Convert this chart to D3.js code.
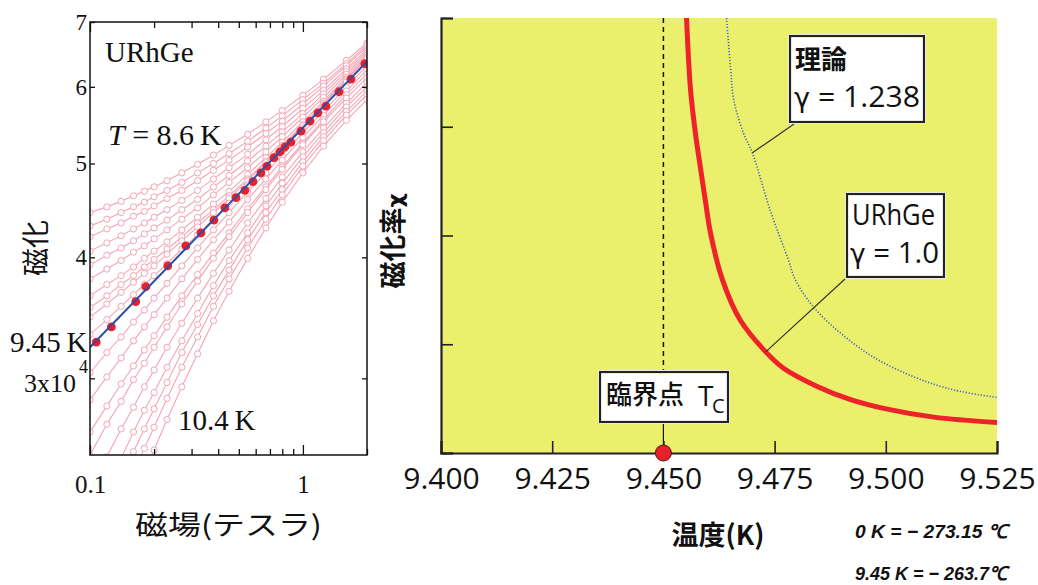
<!DOCTYPE html>
<html>
<head>
<meta charset="utf-8">
<script src="https://cdn.jsdelivr.net/npm/d3@7"></script>
<style>
  body { margin: 0; background: #fff; }
</style>
</head>
<body>
<div id="chart"></div>
<script>
// ===== 左: 磁化 vs 磁場 (両対数) =====
// 磁場 (テスラ)
var fieldT = [0.1, 0.12, 0.14, 0.16, 0.18, 0.2, 0.23, 0.27, 0.32, 0.38, 0.45, 0.55, 0.67, 0.8, 1.0, 1.25, 1.6, 2.0];

// 等温磁化曲線 (x10^4)、8.6 K (上) から 10.4 K (下) へ
var isotherms = [
  [4.45,4.51,4.57,4.63,4.68,4.73,4.80,4.89,4.99,5.10,5.22,5.36,5.52,5.67,5.88,6.11,6.39,6.66],
  [4.31,4.38,4.45,4.51,4.56,4.62,4.69,4.78,4.89,5.00,5.12,5.27,5.44,5.60,5.82,6.05,6.34,6.63],
  [4.20,4.28,4.34,4.41,4.46,4.52,4.60,4.69,4.80,4.92,5.04,5.20,5.37,5.53,5.76,6.01,6.31,6.60],
  [4.06,4.14,4.21,4.28,4.34,4.40,4.48,4.58,4.69,4.82,4.95,5.11,5.29,5.46,5.70,5.95,6.26,6.56],
  [3.93,4.02,4.09,4.16,4.23,4.29,4.37,4.48,4.59,4.73,4.86,5.03,5.21,5.39,5.63,5.90,6.22,6.53],
  [3.80,3.89,3.97,4.05,4.11,4.18,4.27,4.38,4.50,4.64,4.78,4.95,5.14,5.33,5.58,5.85,6.18,6.50],
  [3.65,3.75,3.83,3.91,3.99,4.06,4.15,4.27,4.40,4.54,4.68,4.87,5.07,5.26,5.52,5.80,6.14,6.47],
  [3.55,3.65,3.75,3.83,3.91,3.98,4.08,4.20,4.34,4.48,4.63,4.82,5.03,5.22,5.48,5.77,6.11,6.44],
  [3.47,3.58,3.68,3.77,3.85,3.92,4.03,4.16,4.30,4.45,4.60,4.80,5.01,5.20,5.47,5.75,6.10,6.43],
  [3.33,3.45,3.56,3.66,3.75,3.83,3.94,4.08,4.22,4.38,4.55,4.75,4.96,5.17,5.44,5.72,6.07,6.40],
  [3.04,3.19,3.31,3.43,3.53,3.63,3.76,3.92,4.09,4.27,4.45,4.67,4.89,5.10,5.38,5.66,6.00,6.31],
  [2.85,3.01,3.15,3.28,3.39,3.49,3.63,3.80,3.98,4.17,4.35,4.59,4.82,5.04,5.32,5.61,5.94,6.25],
  [2.64,2.81,2.96,3.09,3.21,3.32,3.47,3.65,3.84,4.04,4.24,4.49,4.73,4.96,5.25,5.55,5.89,6.19],
  [2.50,2.69,2.84,2.99,3.11,3.23,3.39,3.58,3.78,3.99,4.20,4.45,4.70,4.93,5.23,5.52,5.84,6.13],
  [2.30,2.49,2.66,2.80,2.94,3.06,3.23,3.42,3.63,3.85,4.07,4.34,4.60,4.84,5.14,5.44,5.77,6.06],
  [2.12,2.31,2.48,2.64,2.78,2.90,3.08,3.28,3.50,3.74,3.97,4.24,4.52,4.77,5.08,5.38,5.72,6.00],
  [2.00,2.19,2.37,2.52,2.66,2.79,2.97,3.19,3.41,3.65,3.88,4.17,4.45,4.70,5.02,5.33,5.66,5.94],
  [1.86,2.06,2.23,2.40,2.54,2.67,2.86,3.08,3.31,3.56,3.80,4.09,4.38,4.64,4.97,5.28,5.61,5.89],
  [1.71,1.91,2.09,2.25,2.40,2.53,2.72,2.94,3.18,3.44,3.69,3.99,4.29,4.56,4.89,5.21,5.54,5.82]
];

// 9.45 K (臨界) の測定点とフィット直線
var critField = [0.107,0.126,0.164,0.183,0.232,0.282,0.332,0.382,0.430,0.485,0.534,0.583,0.635,0.678,0.731,0.780,0.823,0.878,0.979,1.079,1.176,1.282,1.476,1.681,1.955];
var critMag   = [3.27,3.39,3.60,3.73,3.92,4.11,4.24,4.37,4.50,4.61,4.69,4.79,4.89,4.97,5.07,5.14,5.20,5.26,5.40,5.53,5.64,5.73,5.93,6.11,6.34];
var critFitField = [0.1, 2.0];
var critFitMag   = [3.23, 6.37];

var magTicks = [4, 5, 6, 7];
var magTicksAll = [3, 4, 5, 6, 7];
var fieldMajor = [0.1, 1];
var fieldMinor = [0.2, 0.3, 0.4, 0.5, 0.6, 0.7, 0.8, 0.9, 2];

// ===== 右: 磁化率 vs 温度 =====
var tempTicks = [9.400, 9.425, 9.450, 9.475, 9.500, 9.525];
var chiTicks = [0, 1, 2, 3, 4];
var Tc = 9.45;
var tempURhGe = [9.4552,9.4561,9.4572,9.4583,9.4594,9.4606,9.4633,9.4673,9.4730,9.4770,9.4847,9.4921,9.4995,9.5108,9.5252];
var chiURhGe  = [4.0,3.34,2.94,2.63,2.33,2.02,1.59,1.22,0.93,0.78,0.61,0.49,0.41,0.33,0.28];
var tempTheory = [9.4642,9.4651,9.4658,9.4680,9.4700,9.4741,9.4779,9.4797,9.4838,9.4899,9.4973,9.5063,9.5153,9.5252];
var chiTheory  = [4.0,3.54,3.25,2.94,2.76,2.22,1.80,1.59,1.34,1.10,0.88,0.70,0.58,0.51];

var serif = "'Liberation Serif','Times New Roman',serif";
var cjk = "'Noto Sans CJK JP','Noto Sans',sans-serif";
var sans = "'Open Sans','Noto Sans',sans-serif";
var greek = "'DejaVu Sans',sans-serif";
var pink = "#f4a4b6";

var svg = d3.select("#chart").append("svg")
  .attr("width", 1038)
  .attr("height", 585);

/* ---------- 左パネル ---------- */
var xL = d3.scaleLog().domain([0.1, 2]).range([90, 367]);
var yL = d3.scaleLog().domain([2.5, 7]).range([455, 22]);

svg.append("clipPath").attr("id", "clipL")
  .append("rect").attr("x", 90).attr("y", 22).attr("width", 277).attr("height", 433);

var plotL = svg.append("g").attr("clip-path", "url(#clipL)");
var lineL = d3.line().x(d => xL(d[0])).y(d => yL(d[1]));

isotherms.forEach(function (m) {
  var pts = fieldT.map((h, i) => [h, m[i]]);
  plotL.append("path")
    .attr("d", lineL(pts))
    .attr("fill", "none")
    .attr("stroke", pink)
    .attr("stroke-width", 1.1);
  plotL.append("g").selectAll("circle")
    .data(pts).enter()
    .append("circle")
    .attr("cx", d => xL(d[0]))
    .attr("cy", d => yL(d[1]))
    .attr("r", 3.1)
    .attr("fill", "#fff")
    .attr("stroke", pink)
    .attr("stroke-width", 1);
});

plotL.append("g").selectAll("circle")
  .data(critField.map((h, i) => [h, critMag[i]])).enter()
  .append("circle")
  .attr("cx", d => xL(d[0]))
  .attr("cy", d => yL(d[1]))
  .attr("r", 4.4)
  .attr("fill", "#e8202a");

// フィット直線は点の上に
plotL.append("path")
  .attr("d", lineL(critFitField.map((h, i) => [h, critFitMag[i]])))
  .attr("stroke", "#2d4ea6")
  .attr("stroke-width", 2)
  .attr("fill", "none");

function styleAxis(g, font, size) {
  g.select(".domain").remove();
  g.selectAll(".tick line").attr("stroke", "#111").attr("stroke-width", 1.3);
  g.selectAll("text").attr("font-family", font).attr("font-size", size).attr("fill", "#111");
}

svg.append("g").attr("transform", "translate(0,455)")
  .call(d3.axisBottom(xL).tickValues(fieldMajor).tickSize(-10).tickPadding(20).tickFormat(d3.format("~g")))
  .call(g => styleAxis(g, serif, 25));
svg.append("g").attr("transform", "translate(0,455)")
  .call(d3.axisBottom(xL).tickValues(fieldMinor).tickSize(-6).tickFormat(""))
  .call(g => styleAxis(g, serif, 25));
svg.append("g").attr("transform", "translate(0,22)")
  .call(d3.axisTop(xL).tickValues(fieldMajor).tickSize(-10).tickFormat(""))
  .call(g => styleAxis(g, serif, 25));
svg.append("g").attr("transform", "translate(0,22)")
  .call(d3.axisTop(xL).tickValues(fieldMinor).tickSize(-6).tickFormat(""))
  .call(g => styleAxis(g, serif, 25));
svg.append("g").attr("transform", "translate(90,0)")
  .call(d3.axisLeft(yL).tickValues(magTicksAll).tickSize(-5).tickPadding(3)
    .tickFormat(d => magTicks.indexOf(d) >= 0 ? d : ""))
  .call(g => styleAxis(g, serif, 23));
svg.append("g").attr("transform", "translate(367,0)")
  .call(d3.axisRight(yL).tickValues(magTicksAll).tickSize(-5).tickFormat(""))
  .call(g => styleAxis(g, serif, 23));

svg.append("rect")
  .attr("x", 90).attr("y", 22).attr("width", 277).attr("height", 433)
  .attr("fill", "none").attr("stroke", "#111").attr("stroke-width", 1.5);

// 3x10^4 ラベル
svg.append("text")
  .attr("x", 24).attr("y", yL(3) + 14)
  .attr("font-family", serif).attr("font-size", 26).attr("fill", "#111")
  .text("3x10");
svg.append("text")
  .attr("x", 79).attr("y", yL(3) - 5)
  .attr("font-family", serif).attr("font-size", 18).attr("fill", "#111")
  .text("4");

svg.append("text").attr("x", 105).attr("y", 62)
  .attr("font-family", serif).attr("font-size", 29).attr("fill", "#111")
  .text("URhGe");

var tText = svg.append("text").attr("x", 108).attr("y", 145)
  .attr("font-family", serif).attr("font-size", 30).attr("fill", "#111");
tText.append("tspan").attr("font-style", "italic").text("T");
tText.append("tspan").text(" = 8.6\u2009K");

svg.append("text").attr("x", 10).attr("y", 352)
  .attr("font-family", serif).attr("font-size", 29).attr("fill", "#111")
  .text("9.45\u2009K");
svg.append("text").attr("x", 178).attr("y", 430)
  .attr("font-family", serif).attr("font-size", 29).attr("fill", "#111")
  .text("10.4\u2009K");

svg.append("text").attr("x", 135).attr("y", 535)
  .attr("font-family", cjk).attr("font-size", 27).attr("fill", "#111")
  .attr("textLength", 187).attr("lengthAdjust", "spacingAndGlyphs")
  .text("磁場(テスラ)");

svg.append("text")
  .attr("transform", "translate(46,248) rotate(-90)")
  .attr("text-anchor", "middle")
  .attr("font-family", cjk).attr("font-size", 28).attr("fill", "#111")
  .text("磁化");

/* ---------- 右パネル ---------- */
var xR = d3.scaleLinear().domain([9.4, 9.525]).range([441, 997]);
var yR = d3.scaleLinear().domain([0, 4]).range([453, 18]);

svg.append("rect")
  .attr("x", xR(9.4)).attr("y", yR(4))
  .attr("width", xR(9.525) - xR(9.4)).attr("height", yR(0) - yR(4))
  .attr("fill", "#ebf06c");

svg.append("clipPath").attr("id", "clipR")
  .append("rect").attr("x", 441).attr("y", 18).attr("width", 556).attr("height", 435);
var plotR = svg.append("g").attr("clip-path", "url(#clipR)");

var lineR = d3.line().x(d => xR(d[0])).y(d => yR(d[1])).curve(d3.curveCatmullRom.alpha(0.5));

plotR.append("path")
  .attr("d", lineR(tempTheory.map((t, i) => [t, chiTheory[i]])))
  .attr("fill", "none")
  .attr("stroke", "#4a5bc4")
  .attr("stroke-width", 1.6)
  .attr("stroke-dasharray", "1.2,1.8");

plotR.append("path")
  .attr("d", lineR(tempURhGe.map((t, i) => [t, chiURhGe[i]])))
  .attr("fill", "none")
  .attr("stroke", "#ee2229")
  .attr("stroke-width", 5);

// 臨界点の破線
svg.append("line")
  .attr("x1", xR(Tc)).attr("x2", xR(Tc))
  .attr("y1", yR(4)).attr("y2", 370)
  .attr("stroke", "#111").attr("stroke-width", 1.5)
  .attr("stroke-dasharray", "5,4");
svg.append("line")
  .attr("x1", xR(Tc)).attr("x2", xR(Tc))
  .attr("y1", 424).attr("y2", yR(0))
  .attr("stroke", "#111").attr("stroke-width", 1.2);

svg.append("g").attr("transform", "translate(0,453)")
  .call(d3.axisBottom(xR).tickValues(tempTicks).tickSize(-12).tickPadding(15).tickFormat(d3.format(".3f")))
  .call(g => {
    g.select(".domain").attr("stroke", "#222").attr("stroke-width", 2.2);
    g.selectAll(".tick line").attr("stroke", "#222").attr("stroke-width", 1.6);
    g.selectAll("text").attr("font-family", sans).attr("font-size", 30).attr("fill", "#111");
  });
svg.append("g").attr("transform", "translate(441,0)")
  .call(d3.axisLeft(yR).tickValues(chiTicks).tickSize(-12).tickFormat(""))
  .call(g => {
    g.select(".domain").attr("stroke", "#222").attr("stroke-width", 2.2);
    g.selectAll(".tick line").attr("stroke", "#222").attr("stroke-width", 1.6);
  });

svg.append("circle")
  .attr("cx", xR(Tc)).attr("cy", yR(0)).attr("r", 8)
  .attr("fill", "#e8202a").attr("stroke", "#4a1a1a").attr("stroke-width", 1);

// 注釈の引き出し線
svg.append("line")
  .attr("x1", 794).attr("y1", 124)
  .attr("x2", xR(9.4700)).attr("y2", yR(2.76))
  .attr("stroke", "#333").attr("stroke-width", 1.2);
svg.append("line")
  .attr("x1", 845).attr("y1", 279)
  .attr("x2", xR(9.4730)).attr("y2", yR(0.93))
  .attr("stroke", "#333").attr("stroke-width", 1.2);

function box(x, y, w, h) {
  svg.append("rect").attr("x", x - 2).attr("y", y - 2).attr("width", w + 4).attr("height", h + 4)
    .attr("fill", "#fff");
  svg.append("rect").attr("x", x).attr("y", y).attr("width", w).attr("height", h)
    .attr("fill", "#fff").attr("stroke", "#222").attr("stroke-width", 2.2);
}

function gammaText(x, y, rest, len) {
  var t = svg.append("text").attr("x", x).attr("y", y)
    .attr("font-family", sans).attr("font-size", 30).attr("fill", "#111")
    .attr("textLength", len).attr("lengthAdjust", "spacingAndGlyphs");
  t.append("tspan").attr("font-family", greek).attr("font-size", 27).text("γ");
  t.append("tspan").text(rest);
}

box(790, 36, 134, 86);
svg.append("text").attr("x", 795).attr("y", 69)
  .attr("font-family", cjk).attr("font-size", 26).attr("font-weight", 700).attr("fill", "#111")
  .text("理論");
gammaText(794, 107, " = 1.238", 126);

box(847, 194, 97, 83);
svg.append("text").attr("x", 852).attr("y", 225)
  .attr("font-family", sans).attr("font-size", 29).attr("fill", "#111")
  .attr("textLength", 83).attr("lengthAdjust", "spacingAndGlyphs")
  .text("URhGe");
gammaText(850, 263, " = 1.0", 89);

box(600, 372, 128, 50);
svg.append("text").attr("x", 606).attr("y", 404)
  .attr("font-family", cjk).attr("font-size", 26).attr("font-weight", 500).attr("fill", "#111")
  .text("臨界点");
svg.append("text").attr("x", 698).attr("y", 406)
  .attr("font-family", sans).attr("font-size", 28).attr("fill", "#111")
  .text("T");
svg.append("text").attr("x", 712).attr("y", 413)
  .attr("font-family", sans).attr("font-size", 20).attr("fill", "#111")
  .text("C");

var chiLabel = svg.append("text")
  .attr("transform", "translate(403,241) rotate(-90)")
  .attr("text-anchor", "middle")
  .attr("font-family", cjk).attr("font-size", 27).attr("font-weight", 700).attr("fill", "#111");
chiLabel.append("tspan").text("磁化率");
chiLabel.append("tspan").attr("font-family", greek).attr("font-size", 22).text("χ");

svg.append("text").attr("x", 718).attr("y", 545)
  .attr("text-anchor", "middle")
  .attr("font-family", cjk).attr("font-size", 27).attr("font-weight", 700).attr("fill", "#111")
  .text("温度(K)");

svg.append("text").attr("x", 855).attr("y", 538)
  .attr("font-family", "'Liberation Sans',Arial,sans-serif").attr("font-size", 19)
  .attr("font-style", "italic").attr("font-weight", 700).attr("fill", "#111")
  .attr("textLength", 152).attr("lengthAdjust", "spacingAndGlyphs")
  .text("0 K = − 273.15 ℃");
svg.append("text").attr("x", 855).attr("y", 580)
  .attr("font-family", "'Liberation Sans',Arial,sans-serif").attr("font-size", 19)
  .attr("font-style", "italic").attr("font-weight", 700).attr("fill", "#111")
  .attr("textLength", 152).attr("lengthAdjust", "spacingAndGlyphs")
  .text("9.45 K = − 263.7℃");
</script>
</body>
</html>
